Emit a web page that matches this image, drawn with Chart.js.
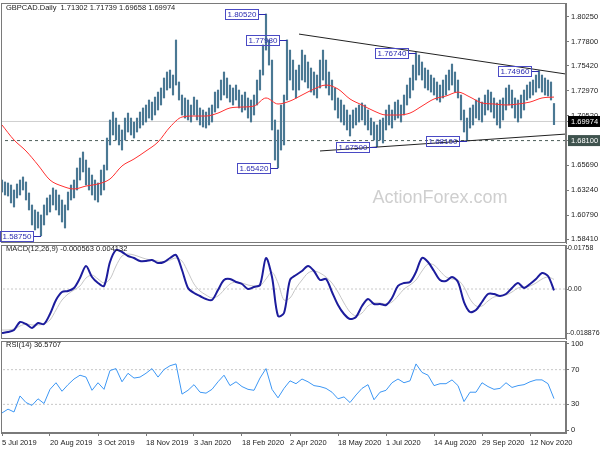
<!DOCTYPE html>
<html lang="en">
<head>
<meta charset="UTF-8" />
<title>GBPCAD Daily</title>
<script src="https://cdn.jsdelivr.net/npm/chart.js"></script>
<style>
body { margin: 0; background: #fff; }
.wrap { position: relative; width: 600px; height: 450px; overflow: hidden; }
.wrap canvas { position: absolute; left: 0; }
</style>
</head>
<body>
<div class="wrap">
  <canvas id="priceChart" width="600" height="244" style="top:0px"></canvas>
  <canvas id="macdChart" width="600" height="96" style="top:244px"></canvas>
  <canvas id="rsiChart" width="600" height="110" style="top:340px"></canvas>
</div>

<script>
// ---- data ----
// daily bars (every third day shown), highs and lows
const highs = [1.6423,1.6404,1.6394,1.6374,1.6325,1.6384,1.6423,1.6453,1.6404,1.6296,
1.6178,1.6129,1.6109,1.6080,1.6178,1.6247,1.6276,1.6345,1.6325,1.6276,
1.6227,1.6178,1.6305,1.6374,1.6423,1.6541,1.6639,1.6698,1.6619,1.6541,
1.6472,1.6423,1.6394,1.6521,1.6570,1.6835,1.7012,1.7090,1.7031,1.6963,
1.6914,1.7031,1.7080,1.7031,1.6992,1.7031,1.7090,1.7130,1.7159,1.7208,
1.7188,1.7237,1.7286,1.7326,1.7424,1.7483,1.7502,1.7453,1.7797,1.7385,
1.7257,1.7228,1.7208,1.7159,1.7237,1.7208,1.7130,1.7110,1.7090,1.7130,
1.7159,1.7286,1.7306,1.7404,1.7483,1.7424,1.7355,1.7326,1.7355,1.7306,
1.7257,1.7286,1.7228,1.7208,1.7257,1.7404,1.7502,1.7748,1.8052,1.7797,
1.7600,1.7012,1.6914,1.7159,1.7257,1.7798,1.7698,1.7600,1.7502,1.7551,
1.7698,1.7649,1.7581,1.7522,1.7483,1.7453,1.7600,1.7698,1.7600,1.7483,
1.7404,1.7326,1.7228,1.7208,1.7159,1.7110,1.7061,1.7110,1.7130,1.7159,
1.7179,1.7159,1.7110,1.7031,1.6992,1.6963,1.7012,1.7031,1.7110,1.7159,
1.7110,1.7188,1.7208,1.7159,1.7257,1.7355,1.7424,1.7551,1.7674,1.7649,
1.7581,1.7522,1.7502,1.7453,1.7424,1.7385,1.7355,1.7404,1.7453,1.7502,
1.7561,1.7483,1.7404,1.7257,1.7110,1.7031,1.7130,1.7159,1.7208,1.7228,
1.7188,1.7257,1.7306,1.7286,1.7228,1.7179,1.7208,1.7228,1.7326,1.7355,
1.7306,1.7228,1.7208,1.7257,1.7306,1.7355,1.7385,1.7404,1.7453,1.7496,
1.7453,1.7424,1.7404,1.7385,1.7174];
const lows = [1.6305,1.6276,1.6266,1.6198,1.6158,1.6247,1.6276,1.6325,1.6227,1.6129,
1.5982,1.5933,1.5952,1.5875,1.5982,1.6080,1.6109,1.6178,1.6129,1.6080,
1.6011,1.5952,1.6129,1.6227,1.6247,1.6325,1.6423,1.6502,1.6374,1.6325,
1.6276,1.6227,1.6207,1.6276,1.6325,1.6521,1.6767,1.6865,1.6816,1.6767,
1.6717,1.6816,1.6894,1.6865,1.6835,1.6894,1.6933,1.6963,1.6992,1.7031,
1.7012,1.7061,1.7110,1.7159,1.7228,1.7306,1.7326,1.7257,1.7355,1.7208,
1.7061,1.7031,1.7012,1.6992,1.7061,1.7012,1.6963,1.6943,1.6933,1.6963,
1.6992,1.7090,1.7130,1.7208,1.7257,1.7228,1.7188,1.7159,1.7208,1.7130,
1.7090,1.7110,1.7031,1.6992,1.7061,1.7159,1.7306,1.7453,1.7698,1.7551,
1.6914,1.6619,1.6542,1.6717,1.6767,1.7208,1.7404,1.7306,1.7228,1.7306,
1.7404,1.7385,1.7326,1.7286,1.7257,1.7228,1.7326,1.7404,1.7326,1.7257,
1.7208,1.7110,1.7031,1.6992,1.6963,1.6914,1.6855,1.6933,1.6963,1.6992,
1.7012,1.6963,1.6914,1.6865,1.6816,1.6750,1.6816,1.6786,1.6914,1.6963,
1.6933,1.7012,1.7031,1.6992,1.7061,1.7159,1.7228,1.7306,1.7404,1.7453,
1.7404,1.7326,1.7306,1.7286,1.7257,1.7208,1.7188,1.7228,1.7257,1.7306,
1.7355,1.7286,1.7228,1.7012,1.6894,1.6810,1.6933,1.6963,1.7031,1.7012,
1.6992,1.7061,1.7110,1.7090,1.7031,1.6963,1.6933,1.7012,1.7110,1.7159,
1.7130,1.7031,1.6992,1.7031,1.7110,1.7208,1.7228,1.7257,1.7286,1.7326,
1.7286,1.7257,1.7247,1.7208,1.6966];

// moving average, one value every 4 bars
const maStep = 4;
const maVals = [1.6963,1.6816,1.6708,1.6570,1.6423,1.6364,1.6335,1.6364,1.6384,1.6433,
1.6561,1.6629,1.6708,1.6796,1.6943,1.7041,1.7051,1.7051,1.7080,1.7130,
1.7139,1.7149,1.7228,1.7169,1.7198,1.7257,1.7316,1.7355,1.7316,1.7218,
1.7159,1.7100,1.7061,1.7061,1.7080,1.7149,1.7218,1.7247,1.7286,1.7237,
1.7179,1.7169,1.7159,1.7169,1.7188,1.7228,1.7237];

// MACD(12,26,9) main and signal, one value every 2 bars
const oscStep = 2;
const macdVals = [-0.01888,-0.01845,-0.01759,-0.01416,-0.01502,-0.01673,-0.01459,-0.01502,-0.01073,-0.00472,
-0.00129,-0.00086,0.00043,0.00472,0.00987,0.00515,0.00257,0.00129,0.01158,0.01673,
0.01587,0.01416,0.01330,0.01201,0.01201,0.01244,0.01115,0.01158,0.01330,0.01459,
0.00815,0.00043,-0.00172,-0.00300,-0.00429,-0.00472,-0.00043,0.00386,0.00429,0.00300,
0.00215,0.00000,0.00086,0.00172,0.01330,0.00515,-0.01160,-0.01030,0.00386,0.00601,
0.00772,0.00987,0.00772,0.00386,0.00429,-0.00129,-0.00686,-0.01073,-0.01287,-0.01201,
-0.00729,-0.00429,-0.00644,-0.00644,-0.00686,-0.00386,0.00129,0.00257,0.00300,0.00729,
0.01330,0.01158,0.00772,0.00386,0.00343,0.00515,0.00300,-0.00558,-0.00987,-0.00901,
-0.00558,-0.00215,-0.00215,-0.00300,-0.00215,0.00043,0.00257,0.00043,0.00215,0.00429,
0.00686,0.00558,-0.00056];
const signalVals = [-0.01759,-0.01759,-0.01716,-0.01587,-0.01502,-0.01544,-0.01544,-0.01502,-0.01330,-0.00901,
-0.00472,-0.00215,-0.00043,0.00129,0.00472,0.00601,0.00429,0.00257,0.00429,0.00987,
0.01416,0.01502,0.01459,0.01373,0.01287,0.01244,0.01201,0.01158,0.01244,0.01330,
0.01201,0.00729,0.00215,-0.00086,-0.00257,-0.00386,-0.00300,-0.00043,0.00215,0.00300,
0.00257,0.00172,0.00129,0.00129,0.00429,0.00729,0.00257,-0.00472,-0.00386,0.00043,
0.00386,0.00686,0.00772,0.00686,0.00515,0.00257,-0.00129,-0.00601,-0.00987,-0.01158,
-0.01030,-0.00729,-0.00601,-0.00601,-0.00644,-0.00558,-0.00300,0.00000,0.00172,0.00386,
0.00772,0.01073,0.01030,0.00772,0.00515,0.00429,0.00386,0.00086,-0.00429,-0.00729,
-0.00729,-0.00515,-0.00343,-0.00300,-0.00257,-0.00129,0.00043,0.00086,0.00129,0.00257,
0.00429,0.00515,0.00413];

// RSI(14), one value every 2 bars
const rsiVals = [20.1,24.5,21.2,39.7,32.1,28.8,36.4,31.0,47.3,54.9,
45.1,52.7,59.2,63.6,61.4,46.2,54.9,47.3,69.0,71.2,
56.0,65.8,60.3,61.4,65.8,71.2,61.4,70.1,74.5,76.6,
41.8,46.2,52.7,44.0,42.9,47.3,56.0,63.6,51.6,56.0,
50.5,47.3,46.2,60.3,71.2,47.3,37.5,48.4,57.1,53.8,
59.2,56.0,51.6,50.5,48.4,44.0,36.4,38.6,32.1,40.8,
48.4,52.7,35.3,44.0,46.2,54.9,59.2,54.9,57.1,76.6,
66.8,63.6,51.6,53.8,53.8,58.2,51.6,33.2,44.0,44.0,
54.9,50.5,47.3,48.4,54.9,49.5,51.6,52.7,56.0,58.2,
58.2,53.8,36.57];

// swing labels: bar index and price
const markIdx = [88, 95, 138, 179, 92, 13, 125, 155];
const markPrice = [1.8052, 1.7798, 1.7674, 1.7496, 1.6542, 1.5875, 1.6750, 1.6810];

// trend lines (bar index, price)
const upperTrend = [{x: 99, y: 1.7855}, {x: 188, y: 1.7463}];
const lowerTrend = [{x: 106, y: 1.6708}, {x: 188, y: 1.6874}];

const lastClose = 1.69974;
const supportLevel = 1.68100;

// axis ticks
const priceTicks = [1.80250, 1.77800, 1.75420, 1.72970, 1.70520, 1.69974, 1.68100, 1.65690, 1.63240, 1.60790, 1.58410];
const macdTicks = [0.01758, 0, -0.018876];
const rsiTicks = [100, 70, 30, 0];
const dateIdx = [0, 16, 32, 48, 64, 80, 96, 112, 128, 144, 160, 176];
const dateLabels = ['5 Jul 2019','20 Aug 2019','3 Oct 2019','18 Nov 2019','3 Jan 2020','18 Feb 2020',
  '2 Apr 2020','18 May 2020','1 Jul 2020','14 Aug 2020','29 Sep 2020','12 Nov 2020'];

// ---- shared bits ----
const FONT = '"Liberation Sans", Arial, sans-serif';
const xMin = -1 / 3, xMax = 188;
const axisGray = '#7a7a7a';

function fitRight(scale) {
  scale.width = 34;
  scale.paddingTop = 0;
  scale.paddingBottom = 0;
}

function rightAxis(min, max, values, fmt) {
  return {
    position: 'right', min: min, max: max,
    afterFit: fitRight,
    afterBuildTicks: s => { s.ticks = values.map(v => ({ value: v })); },
    ticks: { autoSkip: false, padding: 2, color: '#222', font: { family: FONT, size: 7.5 }, callback: fmt },
    grid: { drawOnChartArea: false, tickLength: 3, color: axisGray },
    border: { color: axisGray }
  };
}

const framePlugin = {
  id: 'frame',
  afterDatasetsDraw(chart) {
    const { ctx, chartArea: a } = chart;
    ctx.save();
    ctx.strokeStyle = axisGray;
    ctx.lineWidth = 1;
    ctx.strokeRect(a.left + 0.5, a.top + 0.5, a.right - a.left - 1, a.bottom - a.top - 1);
    ctx.restore();
  }
};

function caption(text, dy) {
  return {
    id: 'caption',
    afterDraw(chart) {
      const ctx = chart.ctx;
      ctx.save();
      ctx.font = '7.5px ' + FONT;
      ctx.fillStyle = '#222';
      ctx.textBaseline = 'middle';
      ctx.fillText(text, 6, chart.chartArea.top + dy);
      ctx.restore();
    }
  };
}

const watermark = {
  id: 'watermark',
  beforeDatasetsDraw(chart) {
    const ctx = chart.ctx;
    ctx.save();
    ctx.font = '18px ' + FONT;
    ctx.fillStyle = '#cfcfcf';
    ctx.textAlign = 'center';
    ctx.textBaseline = 'middle';
    ctx.fillText('ActionForex.com', 440, 198);
    ctx.restore();
  }
};

// swing high / low labels drawn through the scales
const markPlugin = {
  id: 'marks',
  afterDatasetsDraw(chart) {
    const { ctx, scales: { x, y } } = chart;
    ctx.save();
    ctx.font = '8px ' + FONT;
    ctx.textBaseline = 'middle';
    ctx.lineWidth = 1;
    markIdx.forEach((idx, k) => {
      const px = Math.round(x.getPixelForValue(idx));
      const py = Math.round(y.getPixelForValue(markPrice[k])) + 0.5;
      const txt = markPrice[k].toFixed(5);
      const w = ctx.measureText(txt).width;
      const right = px - 8, left = Math.round(right - w - 4);
      ctx.strokeStyle = '#2b2bb0';
      ctx.beginPath();
      ctx.moveTo(right, py);
      ctx.lineTo(px, py);
      ctx.stroke();
      ctx.strokeStyle = '#4a4ac4';
      ctx.strokeRect(left + 0.5, py - 5, right - left, 10);
      ctx.fillStyle = '#2b2bb0';
      ctx.fillText(txt, left + 2.5, py + 0.5);
    });
    ctx.restore();
  }
};

const baseOpts = {
  responsive: false,
  animation: false,
  events: [],
  plugins: { legend: { display: false }, tooltip: { enabled: false } }
};

function hLine(v, color, dash) {
  return { type: 'line', data: [{ x: -1, y: v }, { x: 190, y: v }], borderColor: color,
           borderWidth: 1, borderDash: dash, pointRadius: 0 };
}

// ---- price panel ----
const barPoints = highs.map((h, i) => ({ x: i, y: [lows[i], h] }));
const maPoints = maVals.map((v, k) => ({ x: k * maStep, y: v }));

new Chart(document.getElementById('priceChart'), {
  type: 'bar',
  data: {
    datasets: [
      { type: 'line', data: maPoints, borderColor: '#ff3030', borderWidth: 1, pointRadius: 0, cubicInterpolationMode: 'monotone' },
      { type: 'line', data: upperTrend, borderColor: '#222', borderWidth: 1, pointRadius: 0 },
      { type: 'line', data: lowerTrend, borderColor: '#222', borderWidth: 1, pointRadius: 0 },
      { type: 'bar', data: barPoints, backgroundColor: '#4a7893', barThickness: 1.5 },
      hLine(lastClose, '#cfcfcf', []),
      hLine(supportLevel, '#4d5f5a', [3, 3])
    ]
  },
  options: Object.assign({}, baseOpts, {
    layout: { padding: { left: 1, top: 3, right: 0, bottom: 1 } },
    scales: {
      x: { type: 'linear', min: xMin, max: xMax, offset: false, display: false },
      y: (() => {
        const ax = rightAxis(1.5805, 1.8160, priceTicks, v => v.toFixed(5));
        ax.ticks.color = c => (c.tick && (c.tick.value === lastClose || c.tick.value === supportLevel)) ? '#fff' : '#222';
        ax.ticks.showLabelBackdrop = c => !!c.tick && (c.tick.value === lastClose || c.tick.value === supportLevel);
        ax.ticks.backdropColor = c => (c.tick && c.tick.value === lastClose) ? '#000' : '#3f534e';
        ax.ticks.backdropPadding = { top: 1, bottom: 1, left: 3, right: 5 };
        return ax;
      })()
    }
  }),
  plugins: [watermark, framePlugin, markPlugin, caption('GBPCAD.Daily  1.71302 1.71739 1.69658 1.69974', 5)]
});

// ---- MACD panel ----
const macdAxis = rightAxis(-0.02145, 0.01888, macdTicks, v => v === 0 ? '0.00' : String(v));
macdAxis.ticks.padding = 0;
macdAxis.ticks.font = { family: FONT, size: 7 };
macdAxis.grid.tickLength = 2;

new Chart(document.getElementById('macdChart'), {
  type: 'line',
  data: {
    datasets: [
      { data: macdVals.map((v, k) => ({ x: k * oscStep, y: v })), borderColor: '#1c1c9c', borderWidth: 2, pointRadius: 0, tension: 0.3 },
      { data: signalVals.map((v, k) => ({ x: k * oscStep, y: v })), borderColor: '#c6c6c6', borderWidth: 1, pointRadius: 0, tension: 0.3 },
      hLine(0, '#c8c8c8', [2, 2])
    ]
  },
  options: Object.assign({}, baseOpts, {
    layout: { padding: { left: 1, top: 1, right: 0, bottom: 1 } },
    scales: {
      x: { type: 'linear', min: xMin, max: xMax, offset: false, display: false },
      y: macdAxis
    }
  }),
  plugins: [framePlugin, caption('MACD(12,26,9) -0.000563 0.004132', 4)]
});

// ---- RSI panel ----
new Chart(document.getElementById('rsiChart'), {
  type: 'line',
  data: {
    datasets: [
      { data: rsiVals.map((v, k) => ({ x: k * oscStep, y: v })), borderColor: '#3d97f4', borderWidth: 1, pointRadius: 0 },
      hLine(70, '#c8c8c8', [2, 2]),
      hLine(30, '#c8c8c8', [2, 2])
    ]
  },
  options: Object.assign({}, baseOpts, {
    layout: { padding: { left: 1, top: 1, right: 0, bottom: 0 } },
    scales: {
      x: {
        type: 'linear', min: xMin, max: xMax, offset: false,
        afterFit: s => { s.height = 17; s.paddingLeft = 0; s.paddingRight = 0; },
        afterBuildTicks: s => { s.ticks = dateIdx.map(v => ({ value: v })); },
        ticks: { autoSkip: false, maxRotation: 0, align: 'start', padding: 2, color: '#222',
                 font: { family: FONT, size: 7.5 }, callback: v => dateLabels[dateIdx.indexOf(v)] },
        grid: { drawOnChartArea: false, tickLength: 3, color: axisGray },
        border: { color: axisGray }
      },
      y: rightAxis(-3, 103, rsiTicks, v => String(v))
    }
  }),
  plugins: [framePlugin, caption('RSI(14) 36.5707', 3.5)]
});
</script>
</body>
</html>
